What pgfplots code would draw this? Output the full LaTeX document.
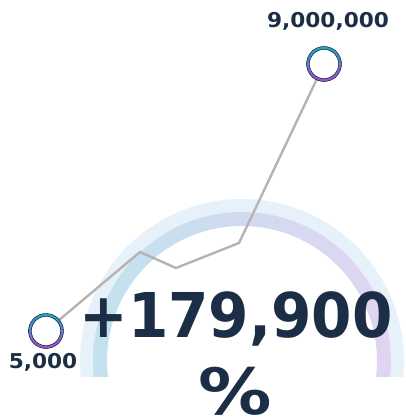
\documentclass[border=0pt]{standalone}
\usepackage{pgfplots}
\pgfplotsset{compat=1.18}
\usepackage{fontspec}
\setmainfont{DejaVu Sans}
\usepackage{graphicx}

\definecolor{navy}{HTML}{1B2E45}
\definecolor{lineg}{HTML}{B4B4B4}
\definecolor{bandout}{HTML}{E7F1FA}
\definecolor{bandL}{HTML}{C2E2EE}
\definecolor{bandM}{HTML}{C9DEF0}
\definecolor{bandR}{HTML}{E0D4F2}
\definecolor{ringA}{HTML}{1AAAC8}
\definecolor{ringB}{HTML}{A24ED8}

% ring marker with a top-to-bottom gradient stroke
\pgfdeclareplotmark{gring}{%
  \fill[white] (0,0) circle[radius=16bp];
  \shade[top color=ringA, bottom color=ringB, even odd rule]
    (0,0) circle[radius=17.5bp] (0,0) circle[radius=14.6bp];
}

\begin{document}
\begin{tikzpicture}
\begin{axis}[
  width=406bp, height=418bp, scale only axis,
  xmin=0, xmax=406, ymin=0, ymax=418,
  enlargelimits=false, hide axis, clip=false,
]
% gauge arc behind everything
\begin{scope}
  \clip (axis cs:0,41) rectangle (axis cs:406,418);
  \fill[bandout, even odd rule] (axis cs:242,57) circle[radius=162bp]
                                (axis cs:242,57) circle[radius=149bp];
  \shade[left color=bandL, middle color=bandM, right color=bandR, even odd rule]
        (axis cs:242,57) circle[radius=149bp]
        (axis cs:242,57) circle[radius=135bp];
\end{scope}

\addplot[lineg, line width=2.4bp, mark=none] coordinates {
  (46,87) (140,166) (176,150) (239,175) (324,354)
};
\addplot[only marks, mark=gring] coordinates {(46,87) (324,354)};

\node[anchor=base, inner sep=0, text=navy, font=\bfseries\fontsize{20.5}{20.5}\selectfont]
  at (axis cs:43,49) {\scalebox{1.06}[1]{5,000}};
\node[anchor=base, inner sep=0, text=navy, font=\bfseries\fontsize{20.5}{20.5}\selectfont]
  at (axis cs:328,390) {\scalebox{1.06}[1]{9,000,000}};
\node[anchor=base, inner sep=0, text=navy, font=\bfseries\fontsize{62}{62}\selectfont]
  at (axis cs:236,80) {\scalebox{0.94}[1]{+179,900}};
\node[anchor=base, inner sep=0, text=navy, font=\bfseries\fontsize{64}{64}\selectfont]
  at (axis cs:235,4) {\scalebox{1.15}[1]{\%}};
\end{axis}
\pgfresetboundingbox
\useasboundingbox (0,0) rectangle (406bp,418bp);
\end{tikzpicture}
\end{document}
